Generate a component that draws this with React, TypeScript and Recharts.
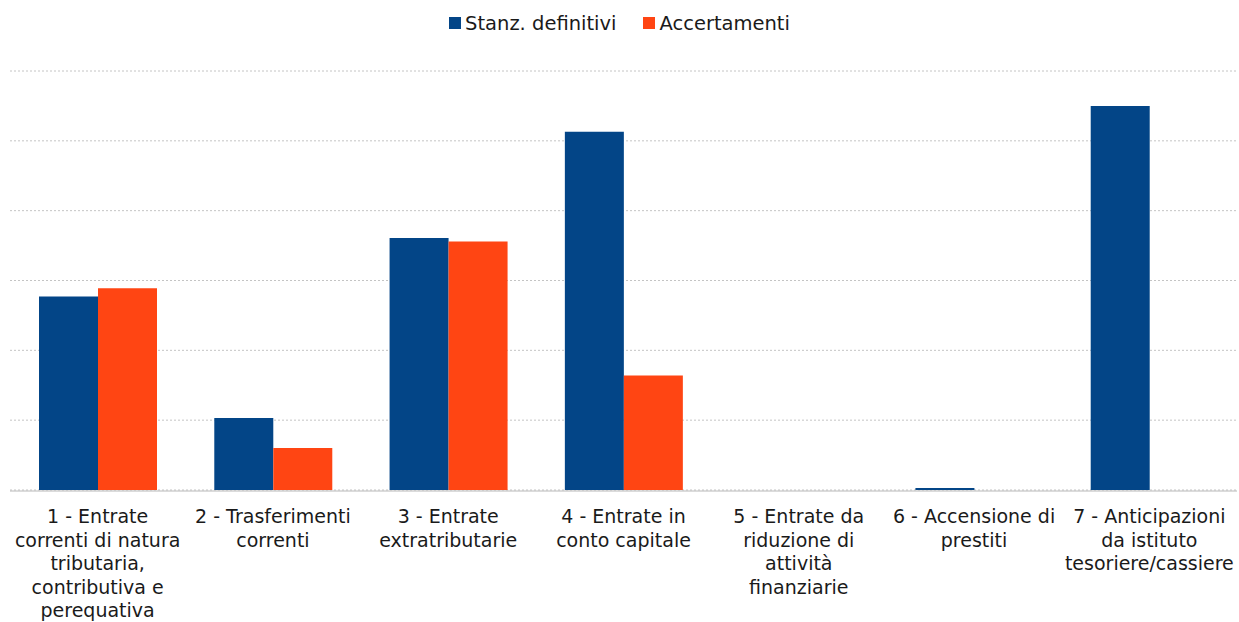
import { Bar, BarChart, CartesianGrid, Legend, XAxis, YAxis } from "recharts";

const labelLines = [
  ["1 - Entrate", "correnti di natura", "tributaria,", "contributiva e", "perequativa"],
  ["2 - Trasferimenti", "correnti"],
  ["3 - Entrate", "extratributarie"],
  ["4 - Entrate in", "conto capitale"],
  ["5 - Entrate da", "riduzione di", "attività", "finanziarie"],
  ["6 - Accensione di", "prestiti"],
  ["7 - Anticipazioni", "da istituto", "tesoriere/cassiere"],
];
const categories = labelLines.map((l) => l.join(" "));

const stanziamenti = [2.77, 1.03, 3.61, 5.13, 0, 0.03, 5.5];
const accertamenti = [2.89, 0.6, 3.56, 1.64, 0, 0, 0];

const yTicks = [0, 1, 2, 3, 4, 5, 6];
const edgeTicks = [0, 1, 2, 3, 4, 5, 6, 7];

const BLUE = "#034587";
const ORANGE = "#ff4513";
const FONT = "'DejaVu Sans', sans-serif";
const TEXT = "#1a1a1a";

const data = categories.map((name, i) => ({
  name,
  stanz: stanziamenti[i],
  acc: accertamenti[i],
}));

const series = [
  { key: "stanz", label: "Stanz. definitivi", color: BLUE },
  { key: "acc", label: "Accertamenti", color: ORANGE },
];

function CategoryTick(props: any) {
  const { x, y, index } = props;
  const lines = labelLines[index] ?? [];
  return (
    <text x={x} y={y} textAnchor="middle" fontFamily={FONT} fontSize={19} fill={TEXT}>
      {lines.map((line, i) => (
        <tspan key={i} x={x} dy={i === 0 ? 25 : 23.5}>
          {line}
        </tspan>
      ))}
    </text>
  );
}

function LegendContent() {
  return (
    <div
      style={{
        display: "flex",
        justifyContent: "center",
        alignItems: "center",
        height: 30,
        fontFamily: FONT,
        fontSize: 19.5,
        color: TEXT,
        gap: 27,
      }}
    >
      {series.map((s) => (
        <div key={s.key} style={{ display: "flex", alignItems: "center" }}>
          <span
            style={{
              display: "inline-block",
              width: 12,
              height: 12,
              background: s.color,
              marginRight: 4,
            }}
          />
          <span>{s.label}</span>
        </div>
      ))}
    </div>
  );
}

export default function App() {
  return (
    <div style={{ position: "absolute", left: 0, top: 0, background: "#fff" }}>
      <BarChart
        width={1239}
        height={622}
        data={data}
        margin={{ top: 41, right: 2, bottom: 4, left: 10 }}
        barCategoryGap={29}
        barGap={0}
      >
        <CartesianGrid xAxisId="cat" vertical={false} stroke="#c4c4c4" strokeDasharray="2 2" />
        <YAxis hide domain={[0, 6]} ticks={yTicks} />
        <XAxis
          xAxisId="cat"
          dataKey="name"
          height={1}
          axisLine={false}
          tickLine={false}
          tick={<CategoryTick />}
          interval={0}
        />
        {/* boundary tick marks between categories */}
        <XAxis
          xAxisId="edges"
          type="number"
          domain={[0, 7]}
          ticks={edgeTicks}
          tick={false}
          tickSize={7}
          height={127}
          stroke="#b8b8b8"
          allowDataOverflow
        />
        <Legend
          verticalAlign="top"
          content={<LegendContent />}
          wrapperStyle={{ top: 8, left: 0, width: 1239 }}
        />
        {series.map((s) => (
          <Bar
            key={s.key}
            xAxisId="cat"
            dataKey={s.key}
            fill={s.color}
            isAnimationActive={false}
          />
        ))}
      </BarChart>
    </div>
  );
}
